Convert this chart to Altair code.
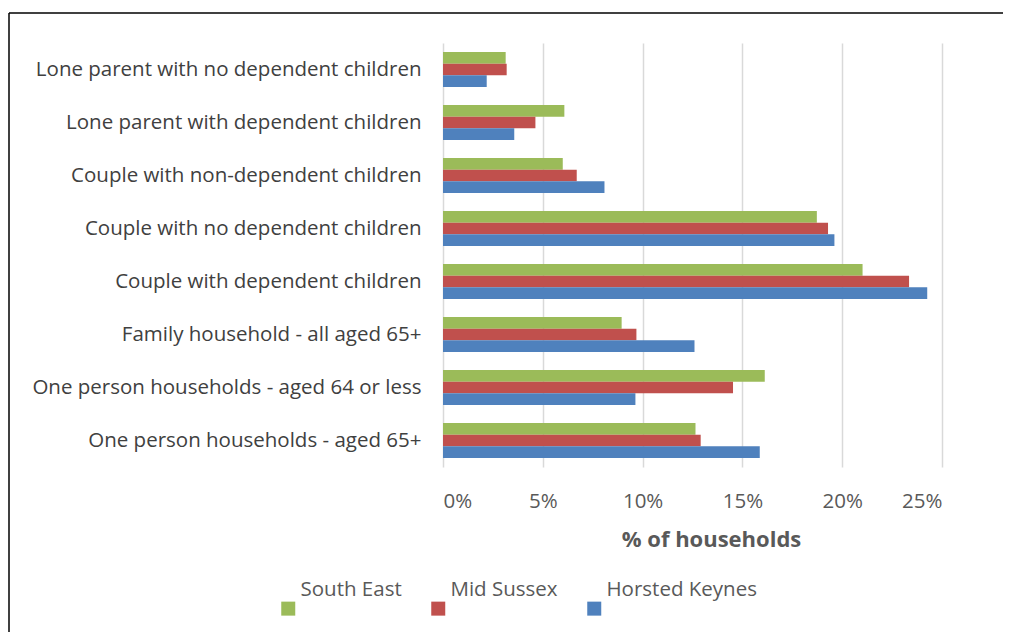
import altair as alt
import pandas as pd

categories = [
    "Lone parent with no dependent children",
    "Lone parent with dependent children",
    "Couple with non-dependent children",
    "Couple with no dependent children",
    "Couple with dependent children",
    "Family household - all aged 65+",
    "One person households - aged 64 or less",
    "One person households - aged 65+",
]
series = ["South East", "Mid Sussex", "Horsted Keynes"]
colors = ["#9BBB59", "#C0504D", "#4F81BD"]
south_east = [3.14, 6.08, 6.0, 18.73, 21.02, 8.95, 16.12, 12.65]
mid_sussex = [3.19, 4.63, 6.70, 19.29, 23.35, 9.69, 14.53, 12.91]
horsted_keynes = [2.19, 3.57, 8.09, 19.61, 24.26, 12.6, 9.64, 15.87]
x_ticks = [0, 0.05, 0.10, 0.15, 0.20, 0.25]

rows = []
for name, vals in zip(series, [south_east, mid_sussex, horsted_keynes]):
    for c, v in zip(categories, vals):
        rows.append({"category": c, "series": name, "value": v / 100})
df = pd.DataFrame(rows)

FONT = "Open Sans"
# square drawn below the label baseline, as in the reference legend
LOWER_SQUARE = "M-1,0.86 L1,0.86 L1,2.86 L-1,2.86 Z"

bars = alt.Chart(df).mark_bar().encode(
    y=alt.Y("category:N", sort=categories,
            scale=alt.Scale(paddingInner=0.335, paddingOuter=0.1675),
            axis=alt.Axis(title=None, labelFontSize=20.5, labelColor="#404040",
                          labelFont=FONT, labelPadding=22, ticks=False,
                          domain=False, labelLimit=500)),
    yOffset=alt.YOffset("series:N", sort=series),
    x=alt.X("value:Q", scale=alt.Scale(domain=[0, 0.25], nice=False),
            axis=alt.Axis(title="% of households", format=".0%", values=x_ticks,
                          labelFontSize=20.5, labelColor="#595959", labelFont=FONT,
                          labelPadding=24, ticks=False, domain=False,
                          grid=True, gridColor="#D9D9D9", gridWidth=1.5,
                          titleFont=FONT, titleFontSize=22, titleFontWeight="bold",
                          titleColor="#595959", titlePadding=18, titleX=268)),
    color=alt.Color("series:N", sort=series,
                    scale=alt.Scale(domain=series, range=colors),
                    legend=alt.Legend(title=None, orient="none", direction="horizontal",
                                      legendX=-165, legendY=542,
                                      symbolType=LOWER_SQUARE, symbolSize=196,
                                      symbolStrokeWidth=0, labelBaseline="alphabetic",
                                      labelOffset=2, columnPadding=26,
                                      labelFont=FONT, labelFontSize=20.5,
                                      labelColor="#595959")),
)

one = pd.DataFrame({"a": [1]})
frame_top = alt.Chart(one).mark_rule(color="black", strokeWidth=1.5).encode(
    x=alt.value(-434), x2=alt.value(560), y=alt.value(-30)
)
frame_left = alt.Chart(one).mark_rule(color="black", strokeWidth=1.5).encode(
    x=alt.value(-434), y=alt.value(-30), y2=alt.value(589)
)

chart = alt.layer(bars, frame_top, frame_left).properties(
    width=499, height=424,
    padding={"left": 0, "top": 4, "right": 0, "bottom": 0},
).configure_view(stroke=None)

chart.save("out.html", embed_options={"renderer": "svg", "actions": False})
